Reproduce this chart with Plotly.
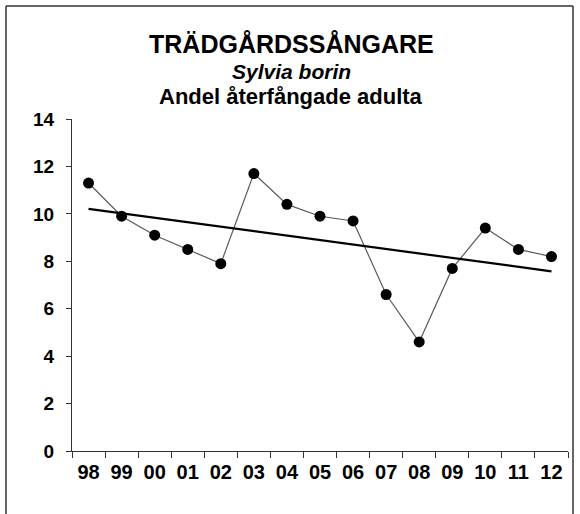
import numpy as np
import plotly.graph_objects as go

# Data
years = ['98', '99', '00', '01', '02', '03', '04', '05', '06', '07', '08', '09', '10', '11', '12']
andel = [11.3, 9.9, 9.1, 8.5, 7.9, 11.7, 10.4, 9.9, 9.7, 6.6, 4.6, 7.7, 9.4, 8.5, 8.2]
y_ticks = [0, 2, 4, 6, 8, 10, 12, 14]

# Linear trend line (least squares over the series)
idx = np.arange(len(andel))
slope, intercept = np.polyfit(idx, andel, 1)
trend = [intercept + slope * i for i in idx]

W, H = 580, 514
ml, mr, mt, mb = 72, 12, 119, 63
pw, ph = W - ml - mr, H - mt - mb
font = 'Liberation Sans, Arial, sans-serif'


def px_x(x):
    return (x - ml) / pw


def px_y(y):
    return (H - mb - y) / ph


fig = go.Figure()
fig.add_trace(go.Scatter(
    x=years, y=andel, mode='lines+markers',
    line=dict(color='#5a5a5a', width=1.2),
    marker=dict(color='black', size=11),
    showlegend=False, hoverinfo='x+y'
))
fig.add_trace(go.Scatter(
    x=years, y=trend, mode='lines',
    line=dict(color='black', width=2.2),
    showlegend=False, hoverinfo='skip'
))

# outer frame around the whole chart (open at the bottom, as in the crop)
frame = dict(color='#333333', width=1.5)
fx0, fx1, fy0, fy1 = px_x(6), px_x(573), px_y(520), px_y(6)
for x0, y0, x1, y1 in [(fx0, fy1, fx1, fy1), (fx0, fy0, fx0, fy1), (fx1, fy0, fx1, fy1)]:
    fig.add_shape(type='line', xref='paper', yref='paper',
                  x0=x0, y0=y0, x1=x1, y1=y1, line=frame)

title_x = px_x(291)
fig.add_annotation(text='<b>TRÄDGÅRDSSÅNGARE</b>', x=title_x, xref='paper', xanchor='center',
                   y=px_y(44), yref='paper', yanchor='middle',
                   showarrow=False, font=dict(family=font, size=25, color='black'))
fig.add_annotation(text='<b><i>Sylvia borin</i></b>', x=title_x, xref='paper', xanchor='center',
                   y=px_y(71), yref='paper', yanchor='middle',
                   showarrow=False, font=dict(family=font, size=21, color='black'))
fig.add_annotation(text='<b>Andel återfångade adulta</b>', x=title_x, xref='paper', xanchor='center',
                   y=px_y(96), yref='paper', yanchor='middle',
                   showarrow=False, font=dict(family=font, size=22, color='black'))

fig.update_layout(
    width=W, height=H,
    margin=dict(l=ml, r=mr, t=mt, b=mb, autoexpand=False),
    paper_bgcolor='white', plot_bgcolor='white',
    font=dict(family=font, size=19, color='black'),
)
fig.update_xaxes(
    type='category', range=[-0.5, 14.5], automargin=False,
    showline=True, linecolor='#333333', linewidth=1.2,
    ticks='outside', tickson='boundaries', ticklen=6, tickcolor='#333333', tickwidth=1.2,
    showgrid=False, zeroline=False,
    tickfont=dict(family=font, size=20, color='black', weight='bold'),
    ticklabelstandoff=3,
)
fig.update_yaxes(
    range=[0, 14], tickvals=y_ticks, automargin=False,
    showline=True, linecolor='#333333', linewidth=1.2,
    ticks='outside', ticklen=5, tickcolor='#333333', tickwidth=1.2,
    showgrid=False, zeroline=False,
    tickfont=dict(family=font, size=19, color='black', weight='bold'),
    ticklabelstandoff=8,
)

# page body margin off, so the 580x514 figure fills the window
fig.write_html('out.html', config={'displayModeBar': False},
               post_script="document.body.style.margin='0';")
